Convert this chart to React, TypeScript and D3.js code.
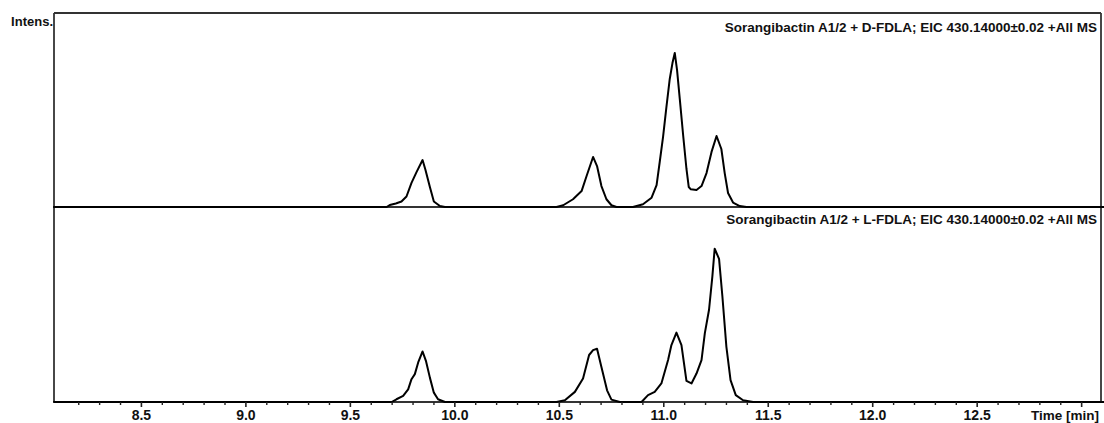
import React, { useEffect, useRef } from "react";
import * as d3 from "d3";

// D-FDLA derivative, EIC 430.14 (upper trace)
const dfdlaTime = [
  8.08, 9.676, 9.691, 9.72, 9.747, 9.771, 9.795, 9.819, 9.848, 9.862, 9.883, 9.902, 9.931, 9.955,
  10.489, 10.521, 10.568, 10.609, 10.633, 10.664, 10.683, 10.704, 10.728, 10.752, 10.776,
  10.855, 10.903, 10.944, 10.968, 10.983, 10.999, 11.015, 11.031, 11.044, 11.055, 11.066, 11.079,
  11.095, 11.111, 11.122, 11.132, 11.159, 11.183, 11.207, 11.231, 11.255, 11.278, 11.294, 11.31,
  11.334, 11.366, 11.398, 13.12,
];
const dfdlaIntensity = [
  0, 0, 0.1, 0.18, 0.28, 0.54, 1.24, 1.8, 2.42, 1.91, 1.03, 0.28, 0.05, 0,
  0, 0.09, 0.4, 0.82, 1.6, 2.58, 2.11, 1.08, 0.4, 0.09, 0,
  0, 0.14, 0.48, 1.13, 2.32, 3.61, 5.15, 6.6, 7.42, 7.94, 7.06, 5.57,
  3.71, 1.96, 1.03, 0.91, 0.88, 1.08, 1.75, 2.84, 3.66, 2.99, 1.75, 0.72,
  0.23, 0.05, 0, 0,
];

// L-FDLA derivative, EIC 430.14 (lower trace)
const lfdlaTime = [
  8.08, 9.7, 9.723, 9.755, 9.779, 9.795, 9.811, 9.827, 9.848, 9.864, 9.883, 9.902, 9.922, 9.955,
  10.489, 10.529, 10.577, 10.616, 10.645, 10.664, 10.683, 10.704, 10.731, 10.752, 10.792,
  10.896, 10.927, 10.959, 10.991, 11.023, 11.039, 11.063, 11.087, 11.111, 11.135, 11.159, 11.183,
  11.199, 11.219, 11.235, 11.246, 11.267, 11.283, 11.302, 11.322, 11.347, 11.382, 11.43, 13.12,
];
const lfdlaIntensity = [
  0, 0, 0.14, 0.31, 0.65, 1.17, 1.43, 2.03, 2.59, 2.11, 1.25, 0.48, 0.14, 0,
  0, 0.09, 0.52, 1.21, 2.41, 2.66, 2.73, 1.8, 0.6, 0.12, 0,
  0, 0.35, 0.52, 0.95, 2.15, 2.92, 3.56, 2.92, 1.08, 0.95, 1.46, 2.15,
  3.53, 4.73, 6.44, 7.86, 7.34, 5.41, 2.84, 1.12, 0.35, 0.09, 0, 0,
];

const majorTicks = [8.5, 9.0, 9.5, 10.0, 10.5, 11.0, 11.5, 12.0, 12.5, 13.0];
const tickLabels = ["8.5", "9.0", "9.5", "10.0", "10.5", "11.0", "11.5", "12.0", "12.5", ""];
const traceTitles = [
  "Sorangibactin A1/2 + D-FDLA; EIC 430.14000±0.02 +All MS",
  "Sorangibactin A1/2 + L-FDLA; EIC 430.14000±0.02 +All MS",
];

const W = 1104;
const H = 423;
const left = 54;
const right = 1101;
const top = 13;
const mid = 207;
const bottom = 402;
const font = "'Liberation Sans', Arial, Helvetica, sans-serif";

export default function App() {
  const axisRef = useRef<SVGGElement>(null);

  const x = d3.scaleLinear().domain([8.084, 13.095]).range([left, right]);
  const yTop = d3.scaleLinear().domain([0, 10]).range([mid, top]);
  const yBot = d3.scaleLinear().domain([0, 10]).range([bottom, mid]);

  const lineTop = d3
    .line<number>()
    .x((d, i) => x(dfdlaTime[i]))
    .y((d) => yTop(d));
  const lineBot = d3
    .line<number>()
    .x((d, i) => x(lfdlaTime[i]))
    .y((d) => yBot(d));

  useEffect(() => {
    const g = d3.select(axisRef.current);
    g.selectAll("*").remove();

    // minor ticks every 0.1 min
    const minor = d3.range(82, 131).map((v) => v / 10).filter((v) => Math.round(v * 10) % 5 !== 0);
    g.append("g")
      .call(d3.axisBottom(x).tickValues(minor).tickSize(3).tickFormat(() => ""))
      .call((s) => s.select(".domain").remove())
      .selectAll("line")
      .attr("stroke", "#222")
      .attr("stroke-width", 1.4);

    const major = g
      .append("g")
      .call(
        d3
          .axisBottom(x)
          .tickValues(majorTicks)
          .tickSize(5)
          .tickPadding(3.5)
          .tickFormat((d, i) => tickLabels[i])
      );
    major.select(".domain").remove();
    major.selectAll("line").attr("stroke", "#222").attr("stroke-width", 1.6);
    major
      .selectAll("text")
      .attr("fill", "#111")
      .style("font-family", font)
      .style("font-weight", "bold")
      .style("font-size", "14px");
  }, []);

  return (
    <svg
      width={W}
      height={H}
      style={{ position: "absolute", left: 0, top: 0, background: "#fff" }}
    >
      {/* frame */}
      <g fill="none" stroke="#333" strokeWidth={1.8}>
        <line x1={left} y1={top} x2={right} y2={top} />
        <line x1={left} y1={top} x2={left} y2={bottom} />
        <line x1={right} y1={top} x2={right} y2={bottom} />
        <line x1={left} y1={mid} x2={right} y2={mid} />
        <line x1={left} y1={bottom} x2={right} y2={bottom} />
      </g>

      <path d={lineTop(dfdlaIntensity) || ""} fill="none" stroke="#000" strokeWidth={2} strokeLinejoin="round" />
      <path d={lineBot(lfdlaIntensity) || ""} fill="none" stroke="#000" strokeWidth={2} strokeLinejoin="round" />

      <g ref={axisRef} transform={`translate(0,${bottom})`} />

      <g style={{ fontFamily: font, fontWeight: "bold" }} fill="#111">
        <text x={left - 1} y={26} textAnchor="end" fontSize={13}>Intens.</text>
        <text x={1097} y={32} textAnchor="end" fontSize={13.5}>{traceTitles[0]}</text>
        <text x={1097} y={224} textAnchor="end" fontSize={13.5}>{traceTitles[1]}</text>
        <text x={1099} y={420} textAnchor="end" fontSize={13.5}>Time [min]</text>
      </g>
    </svg>
  );
}
